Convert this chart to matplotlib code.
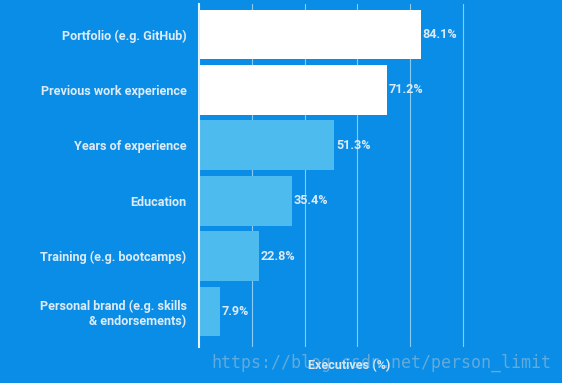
import matplotlib
matplotlib.use("Agg")
import matplotlib.pyplot as plt

categories = ["Portfolio (e.g. GitHub)", "Previous work experience", "Years of experience",
              "Education", "Training (e.g. bootcamps)",
              "Personal brand (e.g. skills\n& endorsements)"]
values = [84.1, 71.2, 51.3, 35.4, 22.8, 7.9]
value_labels = ["84.1%", "71.2%", "51.3%", "35.4%", "22.8%", "7.9%"]
grid_ticks = [20, 40, 60, 80, 100]

BG = "#0A8DE6"
LIGHT = "#4DBBEE"
TXT = "#DCEAF6"
bar_colors = ["#FFFFFF", "#FFFFFF", LIGHT, LIGHT, LIGHT, LIGHT]

plt.rcParams['font.family'] = ['Roboto', 'DejaVu Sans']

fig = plt.figure(figsize=(5.62, 3.83), dpi=100, facecolor=BG)
ax = fig.add_axes([199/562, 1-347/383, (500-199)/562, (347-4)/383])
ax.set_facecolor(BG)

y = list(range(len(categories)))
ax.barh(y, values, height=0.9, color=bar_colors, zorder=3)
ax.set_ylim(5.64, -0.55)
ax.set_xlim(0, 114)
ax.set_xticks(grid_ticks)
ax.set_xticklabels([])
ax.tick_params(axis='x', length=0)
ax.grid(axis='x', color="#8ACBF3", linewidth=0.8, zorder=1)
ax.set_yticks(y)
ax.set_yticklabels(categories, color=TXT, fontsize=9.1, fontweight='bold')
ax.tick_params(axis='y', length=0, pad=9)
for lab in ax.get_yticklabels():
    lab.set_horizontalalignment('right')
    lab.set_multialignment('right')

for s in ['top', 'right', 'bottom']:
    ax.spines[s].set_visible(False)
ax.spines['left'].set_color("#E6F2FB")
ax.spines['left'].set_linewidth(1.5)
ax.spines['left'].set_zorder(4)

for yi, v, t in zip(y, values, value_labels):
    ax.text(v + 0.6, yi, t, va='center', ha='left', color=TXT, fontsize=9.1,
            fontweight='bold', zorder=5)

ax.set_xlabel("Executives (%)", color=TXT, fontsize=9.1, fontweight='bold', labelpad=5)

fig.text(211/562, 1-363/383, "https://blog.csdn.net/person_limit", color="#B9C7D3",
         alpha=0.5, fontsize=12, family=['DejaVu Sans Mono'], va='center', ha='left')

fig.savefig("out.png", dpi=100, facecolor=BG)
